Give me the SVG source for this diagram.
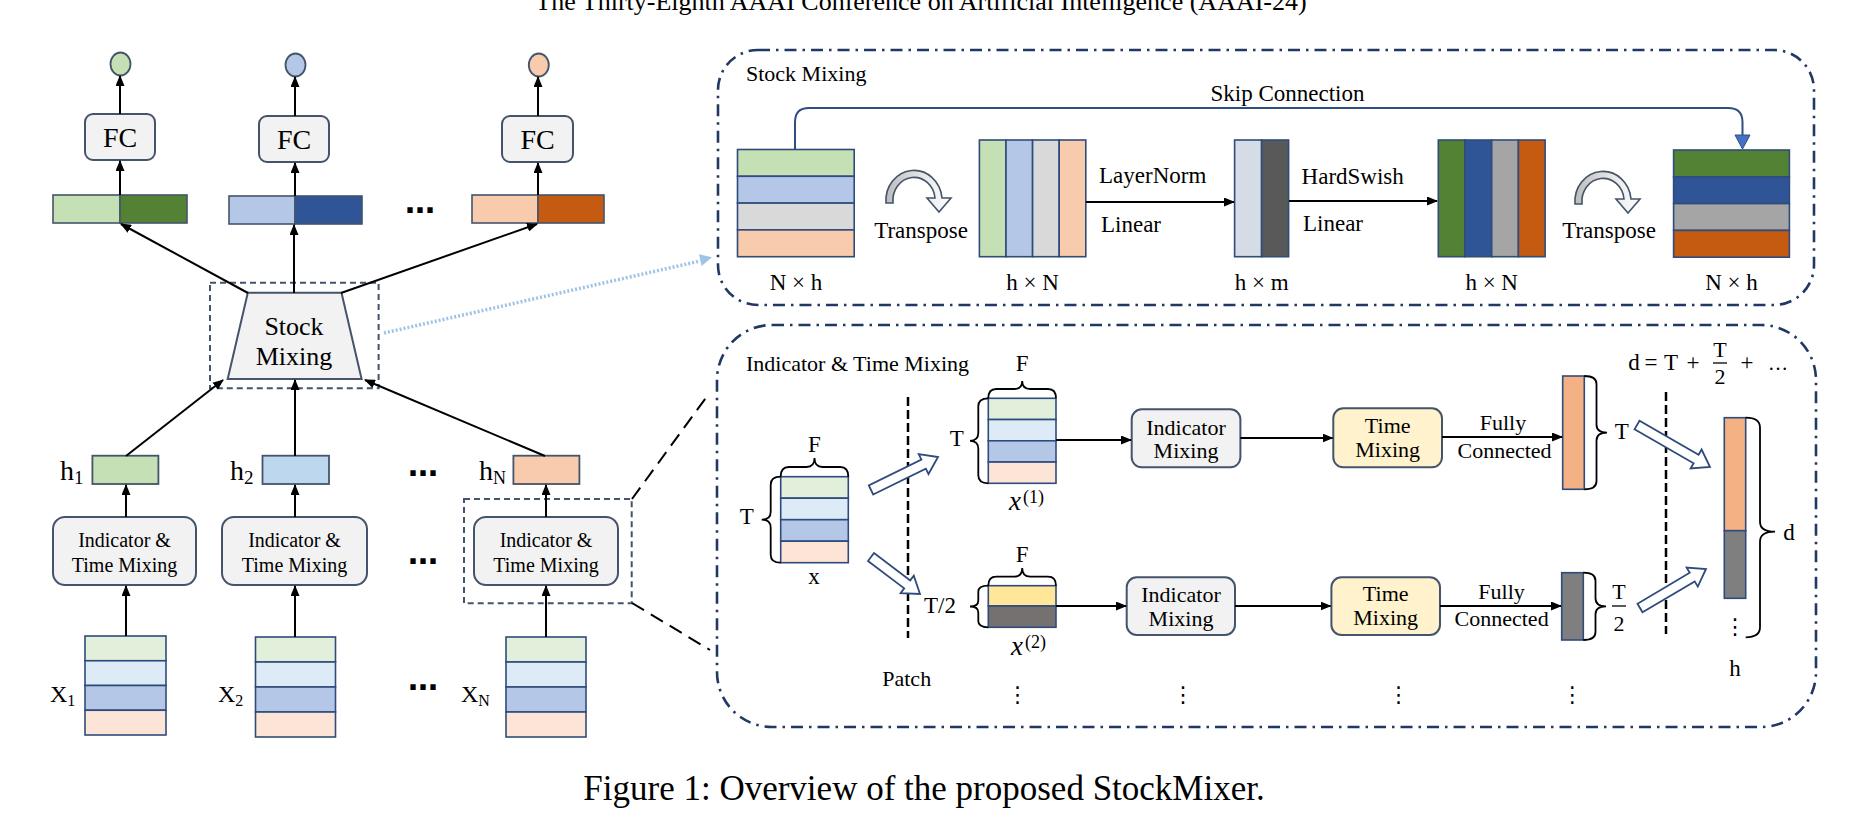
<svg xmlns="http://www.w3.org/2000/svg" width="1864" height="834" viewBox="0 0 1864 834">
<defs>
<style>
text{font-family:"Liberation Serif","Times New Roman",serif;fill:#000}
.c{text-anchor:middle}
.box{fill:#f2f2f2;stroke:#44546a;stroke-width:2}
.tm{fill:#fff2cc;stroke:#44546a;stroke-width:2}
.cell{stroke:#2f4b7c;stroke-width:1.6}
.arr{stroke:#000;stroke-width:2;fill:none;marker-end:url(#ah)}
.hl{fill:none;stroke:#44546a;stroke-width:2;stroke-dasharray:6 4}
.panel{fill:none;stroke:#203864;stroke-width:2.6;stroke-dasharray:12 6 2.5 6}
.zoom{fill:none;stroke:#000;stroke-width:2;stroke-dasharray:14 8}
.patch{fill:none;stroke:#000;stroke-width:2.5;stroke-dasharray:9 4}
.brace{fill:none;stroke:#000;stroke-width:1.8}
.hollow{fill:#fff;stroke:#2f4b7c;stroke-width:1.8}
.dots{font-family:"DejaVu Sans",sans-serif;font-weight:bold}
.vd{font-family:"DejaVu Sans",sans-serif;font-size:22px;text-anchor:middle}
.trn{fill:url(#tg);stroke:#44546a;stroke-width:1.6}
</style>
<marker id="ah" markerUnits="userSpaceOnUse" markerWidth="11" markerHeight="9" refX="10" refY="4.5" orient="auto"><path d="M0,0 L11,4.5 L0,9 z" fill="#000"/></marker>
<linearGradient id="tg" x1="0" y1="0" x2="1" y2="0"><stop offset="0" stop-color="#bcbcbc"/><stop offset="0.55" stop-color="#e6e6e6"/><stop offset="1" stop-color="#ffffff"/></linearGradient>
<path id="trp" d="M886,203 A28,30 0 0 1 942,198 L951,198 L939,212 L927,198 L935,198 A21,23 0 0 0 893,203 Z"/>
</defs>
<rect width="1864" height="834" fill="#fff"/>

<text x="921" y="10" class="c" font-size="26">The Thirty-Eighth AAAI Conference on Artificial Intelligence (AAAI-24)</text>

<!-- Left panel nodes -->
<g id="out-circle-1"><ellipse cx="120.5" cy="64" rx="10" ry="11.5" fill="#c5e0b4" stroke="#44546a" stroke-width="1.8"/></g>
<g id="out-circle-2"><ellipse cx="295.5" cy="65" rx="10" ry="11.5" fill="#b4c7e7" stroke="#44546a" stroke-width="1.8"/></g>
<g id="out-circle-3"><ellipse cx="538.8" cy="65" rx="10" ry="11.5" fill="#f8cbad" stroke="#44546a" stroke-width="1.8"/></g>

<g id="fc-1"><rect class="box" x="85" y="114" width="70" height="46" rx="8"/><text x="120" y="147" class="c" font-size="28">FC</text></g>
<g id="fc-2"><rect class="box" x="259" y="116" width="70" height="46" rx="8"/><text x="294" y="149" class="c" font-size="28">FC</text></g>
<g id="fc-3"><rect class="box" x="502" y="116" width="71" height="46" rx="8"/><text x="537.5" y="149" class="c" font-size="28">FC</text></g>

<g id="bar-1"><rect x="53" y="195" width="67" height="28" fill="#c5e0b4" stroke="#44546a" stroke-width="1.6"/><rect x="120" y="195" width="67" height="28" fill="#548235" stroke="#44546a" stroke-width="1.6"/></g>
<g id="bar-2"><rect x="229" y="196" width="66" height="28" fill="#b4c7e7" stroke="#44546a" stroke-width="1.6"/><rect x="295" y="196" width="67" height="28" fill="#2f5597" stroke="#44546a" stroke-width="1.6"/></g>
<g id="bar-3"><rect x="472" y="195" width="66" height="28" fill="#f8cbad" stroke="#44546a" stroke-width="1.6"/><rect x="538" y="195" width="66" height="28" fill="#c55a11" stroke="#44546a" stroke-width="1.6"/></g>
<text x="420" y="213" class="c dots" font-size="30">…</text>

<g id="stock-mixing-node">
<rect class="hl" x="210" y="282.7" width="168.6" height="105.6"/>
<polygon points="247.8,292.7 341.5,292.7 361.6,379 227.7,379" fill="#f2f2f2" stroke="#44546a" stroke-width="2"/>
<text x="294" y="335" class="c" font-size="26">Stock</text>
<text x="294" y="365" class="c" font-size="26">Mixing</text>
</g>

<g id="h-1"><rect x="92.4" y="455.7" width="66" height="28.3" fill="#c5e0b4" stroke="#44546a" stroke-width="1.8"/><text x="60" y="480" font-size="28">h<tspan font-size="19" dy="4">1</tspan></text></g>
<g id="h-2"><rect x="262.5" y="455.7" width="66.5" height="28.3" fill="#bdd7ee" stroke="#44546a" stroke-width="1.8"/><text x="230" y="480" font-size="28">h<tspan font-size="19" dy="4">2</tspan></text></g>
<g id="h-N"><rect x="513.4" y="455.7" width="66" height="28.3" fill="#f8cbad" stroke="#44546a" stroke-width="1.8"/><text x="479" y="480" font-size="28">h<tspan font-size="18" dy="4">N</tspan></text></g>
<text x="423" y="476" class="c dots" font-size="30">…</text>

<g id="itm-1"><rect class="box" x="53" y="517" width="143" height="68" rx="12"/><text x="124.5" y="547" class="c" font-size="20">Indicator &amp;</text><text x="124.5" y="572" class="c" font-size="20">Time Mixing</text></g>
<g id="itm-2"><rect class="box" x="222" y="517" width="145" height="68" rx="12"/><text x="294.5" y="547" class="c" font-size="20">Indicator &amp;</text><text x="294.5" y="572" class="c" font-size="20">Time Mixing</text></g>
<g id="itm-N"><rect class="hl" x="464" y="499" width="167.7" height="104.3"/><rect class="box" x="474" y="517" width="144" height="68" rx="12"/><text x="546" y="547" class="c" font-size="20">Indicator &amp;</text><text x="546" y="572" class="c" font-size="20">Time Mixing</text></g>
<text x="423" y="564" class="c dots" font-size="30">…</text>

<g id="x-1"><rect class="cell" x="85" y="636" width="81" height="24.75" fill="#e2efda"/><rect class="cell" x="85" y="660.75" width="81" height="24.75" fill="#ddebf7"/><rect class="cell" x="85" y="685.5" width="81" height="24.75" fill="#b4c7e7"/><rect class="cell" x="85" y="710.25" width="81" height="24.75" fill="#fce4d6"/><text x="50" y="702" font-size="24">X<tspan font-size="16" dy="4">1</tspan></text></g>
<g id="x-2"><rect class="cell" x="255.5" y="637" width="80" height="25" fill="#e2efda"/><rect class="cell" x="255.5" y="662" width="80" height="25" fill="#ddebf7"/><rect class="cell" x="255.5" y="687" width="80" height="25" fill="#b4c7e7"/><rect class="cell" x="255.5" y="712" width="80" height="25" fill="#fce4d6"/><text x="218" y="702" font-size="24">X<tspan font-size="16" dy="4">2</tspan></text></g>
<g id="x-N"><rect class="cell" x="506" y="637" width="80" height="25" fill="#e2efda"/><rect class="cell" x="506" y="662" width="80" height="25" fill="#ddebf7"/><rect class="cell" x="506" y="687" width="80" height="25" fill="#b4c7e7"/><rect class="cell" x="506" y="712" width="80" height="25" fill="#fce4d6"/><text x="461" y="702" font-size="24">X<tspan font-size="16" dy="4">N</tspan></text></g>
<text x="423" y="690" class="c dots" font-size="30">…</text>

<!-- Stock Mixing panel -->
<g id="stock-mixing-panel">
<rect class="panel" x="718" y="50" width="1096" height="255" rx="40"/>
<text x="746" y="81" font-size="22">Stock Mixing</text>
<text x="1287.5" y="101" class="c" font-size="23">Skip Connection</text>
</g>
<g id="sm-input">
<rect class="cell" x="737.5" y="149.5" width="116.7" height="26.8" fill="#c5e0b4"/>
<rect class="cell" x="737.5" y="176.3" width="116.7" height="26.8" fill="#b4c7e7"/>
<rect class="cell" x="737.5" y="203.1" width="116.7" height="26.8" fill="#d9d9d9"/>
<rect class="cell" x="737.5" y="229.9" width="116.7" height="26.8" fill="#f8cbad"/>
<text x="796" y="290" class="c" font-size="23">N × h</text>
</g>
<g id="sm-transpose-1"><use href="#trp" class="trn"/><text x="921" y="238" class="c" font-size="23">Transpose</text></g>
<g id="sm-hxN">
<rect class="cell" x="979.4" y="140" width="26.6" height="116.7" fill="#c5e0b4"/>
<rect class="cell" x="1006" y="140" width="26.6" height="116.7" fill="#b4c7e7"/>
<rect class="cell" x="1032.6" y="140" width="26.6" height="116.7" fill="#d9d9d9"/>
<rect class="cell" x="1059.2" y="140" width="26.6" height="116.7" fill="#f8cbad"/>
<text x="1032.6" y="290" class="c" font-size="23">h × N</text>
</g>
<g id="sm-hxm">
<rect class="cell" x="1234.6" y="140" width="27" height="116.7" fill="#d6dce5"/>
<rect class="cell" x="1261.6" y="140" width="27" height="116.7" fill="#595959"/>
<text x="1261.6" y="290" class="c" font-size="23">h × m</text>
</g>
<g id="sm-hxN-out">
<rect class="cell" x="1438.3" y="140" width="26.7" height="116.7" fill="#548235"/>
<rect class="cell" x="1465" y="140" width="26.7" height="116.7" fill="#2f5597"/>
<rect class="cell" x="1491.7" y="140" width="26.7" height="116.7" fill="#a5a5a5"/>
<rect class="cell" x="1518.4" y="140" width="26.7" height="116.7" fill="#c55a11"/>
<text x="1491.7" y="290" class="c" font-size="23">h × N</text>
</g>
<g id="sm-transpose-2"><use href="#trp" class="trn" transform="translate(689,1)"/><text x="1609" y="238" class="c" font-size="23">Transpose</text></g>
<g id="sm-output">
<rect class="cell" x="1673.6" y="150" width="115.8" height="26.8" fill="#548235"/>
<rect class="cell" x="1673.6" y="176.8" width="115.8" height="26.8" fill="#2f5597"/>
<rect class="cell" x="1673.6" y="203.6" width="115.8" height="26.8" fill="#a5a5a5"/>
<rect class="cell" x="1673.6" y="230.4" width="115.8" height="26.8" fill="#c55a11"/>
<text x="1731.5" y="290" class="c" font-size="23">N × h</text>
</g>

<!-- Indicator & Time Mixing panel -->
<g id="itm-panel">
<rect class="panel" x="717" y="325" width="1099" height="402" rx="55"/>
<text x="746" y="371" font-size="22">Indicator &amp; Time Mixing</text>
<line class="patch" x1="908" y1="397" x2="908" y2="638"/>
<text x="906.7" y="686" class="c" font-size="22">Patch</text>
<line class="patch" x1="1666" y1="392" x2="1666" y2="634"/>
</g>
<g id="itm-x">
<rect class="cell" x="780.7" y="476.7" width="67.6" height="21.5" fill="#e2efda"/>
<rect class="cell" x="780.7" y="498.2" width="67.6" height="21.5" fill="#ddebf7"/>
<rect class="cell" x="780.7" y="519.7" width="67.6" height="21.5" fill="#b4c7e7"/>
<rect class="cell" x="780.7" y="541.2" width="67.6" height="21.5" fill="#fce4d6"/>
<path class="brace" d="M780.7,476.7 Q780.7,467 788.7,467 L806.5,467 Q814.5,467 814.5,458 Q814.5,467 822.5,467 L840.3,467 Q848.3,467 848.3,476.7"/>
<path class="brace" d="M780.7,476.7 Q770.7,476.7 770.7,484.7 L770.7,511.7 Q770.7,519.7 761.7,519.7 Q770.7,519.7 770.7,527.7 L770.7,554.7 Q770.7,562.7 780.7,562.7"/>
<text x="814.5" y="452" class="c" font-size="23">F</text>
<text x="746.7" y="524" class="c" font-size="23">T</text>
<text x="814" y="584" class="c" font-size="23">x</text>
</g>
<g id="itm-x1">
<rect class="cell" x="988.3" y="398.3" width="67.7" height="21.25" fill="#e2efda"/>
<rect class="cell" x="988.3" y="419.55" width="67.7" height="21.25" fill="#ddebf7"/>
<rect class="cell" x="988.3" y="440.8" width="67.7" height="21.25" fill="#b4c7e7"/>
<rect class="cell" x="988.3" y="462.05" width="67.7" height="21.25" fill="#fce4d6"/>
<path class="brace" d="M988.3,398.3 Q988.3,389 996.3,389 L1014.2,389 Q1022.2,389 1022.2,381 Q1022.2,389 1030.2,389 L1048,389 Q1056,389 1056,398.3"/>
<path class="brace" d="M988.3,398.3 Q978.3,398.3 978.3,406.3 L978.3,432.8 Q978.3,440.8 970,440.8 Q978.3,440.8 978.3,448.8 L978.3,475.3 Q978.3,483.3 988.3,483.3"/>
<text x="1022.2" y="371" class="c" font-size="23">F</text>
<text x="956.7" y="446" class="c" font-size="23">T</text>
<text x="1009" y="510" font-size="27" font-style="italic">x</text><text x="1023" y="503" font-size="18">(1)</text>
</g>
<g id="itm-x2">
<rect class="cell" x="988.3" y="585.7" width="67.7" height="20.3" fill="#ffe699"/>
<rect class="cell" x="988.3" y="606" width="67.7" height="21.3" fill="#767171"/>
<path class="brace" d="M988.3,585.7 Q988.3,576.7 996.3,576.7 L1014.2,576.7 Q1022.2,576.7 1022.2,568 Q1022.2,576.7 1030.2,576.7 L1048,576.7 Q1056,576.7 1056,585.7"/>
<path class="brace" d="M988.3,585.7 Q978.3,585.7 978.3,591.7 L978.3,600.5 Q978.3,606.5 970,606.5 Q978.3,606.5 978.3,612.5 L978.3,621.3 Q978.3,627.3 988.3,627.3"/>
<text x="1022.2" y="562" class="c" font-size="23">F</text>
<text x="940" y="613" class="c" font-size="23">T/2</text>
<text x="1011" y="655" font-size="27" font-style="italic">x</text><text x="1025" y="648" font-size="18">(2)</text>
<text x="1017.6" y="702" class="vd">⋮</text>
</g>
<g id="itm-ind-1"><rect class="box" x="1131.7" y="409.3" width="108.7" height="58" rx="10"/><text x="1186" y="435" class="c" font-size="22">Indicator</text><text x="1186" y="458" class="c" font-size="22">Mixing</text></g>
<g id="itm-ind-2"><rect class="box" x="1126.7" y="577.3" width="108.3" height="57.7" rx="10"/><text x="1181" y="602" class="c" font-size="22">Indicator</text><text x="1181" y="626" class="c" font-size="22">Mixing</text><text x="1183" y="702" class="vd">⋮</text></g>
<g id="itm-time-1"><rect class="tm" x="1333.3" y="408.3" width="108.7" height="59" rx="10"/><text x="1387.7" y="433" class="c" font-size="22">Time</text><text x="1387.7" y="457" class="c" font-size="22">Mixing</text></g>
<g id="itm-time-2"><rect class="tm" x="1331.4" y="577.3" width="108.6" height="57.7" rx="10"/><text x="1385.7" y="601" class="c" font-size="22">Time</text><text x="1385.7" y="625" class="c" font-size="22">Mixing</text><text x="1398.4" y="702" class="vd">⋮</text></g>
<g id="itm-out-1">
<rect class="cell" x="1562.7" y="376" width="21.6" height="113.3" fill="#f4b183"/>
<path class="brace" d="M1584.3,376 Q1596.5,376 1596.5,384 L1596.5,424.6 Q1596.5,432.6 1607,432.6 Q1596.5,432.6 1596.5,440.6 L1596.5,481.3 Q1596.5,489.3 1584.3,489.3"/>
<text x="1621.7" y="439" class="c" font-size="23">T</text>
</g>
<g id="itm-out-2">
<rect class="cell" x="1561.7" y="572.7" width="21.6" height="67.3" fill="#7f7f7f"/>
<path class="brace" d="M1583.3,572.7 Q1595.5,572.7 1595.5,580.7 L1595.5,598.3 Q1595.5,606.3 1606,606.3 Q1595.5,606.3 1595.5,614.3 L1595.5,632 Q1595.5,640 1583.3,640"/>
<text x="1619" y="599" class="c" font-size="22">T</text>
<line x1="1612" y1="606" x2="1626" y2="606" stroke="#000" stroke-width="1.3"/>
<text x="1619" y="631" class="c" font-size="22">2</text>
<text x="1572.3" y="702" class="vd">⋮</text>
</g>
<g id="itm-h">
<rect class="cell" x="1724.3" y="417.7" width="21.4" height="113" fill="#f4b183"/>
<rect class="cell" x="1724.3" y="530.7" width="21.4" height="67.6" fill="#7f7f7f"/>
<text x="1735" y="634" class="vd">⋮</text>
<path class="brace" d="M1745.7,417.7 Q1760,417.7 1760,427.7 L1760,521.7 Q1760,531.7 1775,531.7 Q1760,531.7 1760,541.7 L1760,627.3 Q1760,637.3 1745.7,637.3"/>
<text x="1789" y="540" class="c" font-size="23">d</text>
<text x="1735" y="676" class="c" font-size="23">h</text>
</g>
<g id="itm-formula">
<text x="1634" y="370" class="c" font-size="23">d</text>
<text x="1651" y="370" class="c" font-size="23">=</text>
<text x="1671" y="370" class="c" font-size="23">T</text>
<text x="1693" y="370" class="c" font-size="23">+</text>
<text x="1720" y="357" class="c" font-size="22">T</text>
<line x1="1713" y1="363" x2="1727" y2="363" stroke="#000" stroke-width="1.3"/>
<text x="1720" y="384" class="c" font-size="22">2</text>
<text x="1747" y="370" class="c" font-size="23">+</text>
<text x="1778" y="370" class="c" font-size="20">…</text>
</g>

<!-- Connectors -->
<g id="connectors">
<line class="arr" x1="120" y1="114" x2="120" y2="76"/>
<line class="arr" x1="295" y1="116" x2="295" y2="77"/>
<line class="arr" x1="538" y1="116" x2="538" y2="77"/>
<line class="arr" x1="120" y1="195" x2="120" y2="161"/>
<line class="arr" x1="295" y1="196" x2="295" y2="163"/>
<line class="arr" x1="538" y1="195" x2="538" y2="163"/>
<line class="arr" x1="248" y1="293" x2="121" y2="224"/>
<line class="arr" x1="294" y1="293" x2="294" y2="225"/>
<line class="arr" x1="341" y1="293" x2="537" y2="224"/>
<line class="arr" x1="126" y1="456" x2="223" y2="380"/>
<line class="arr" x1="295" y1="456" x2="295" y2="380"/>
<line class="arr" x1="545" y1="456" x2="365" y2="380"/>
<line class="arr" x1="126" y1="517" x2="126" y2="485"/>
<line class="arr" x1="295" y1="517" x2="295" y2="485"/>
<line class="arr" x1="546" y1="517" x2="546" y2="485"/>
<line class="arr" x1="126" y1="636" x2="126" y2="586"/>
<line class="arr" x1="295" y1="637" x2="295" y2="586"/>
<line class="arr" x1="546" y1="637" x2="546" y2="586"/>
<line x1="384" y1="333" x2="700" y2="261" stroke="#9dc3e6" stroke-width="3.5" stroke-dasharray="2 2"/>
<polygon points="712,257.3 701.6,265.9 699,254.2" fill="#9dc3e6"/>
<line class="zoom" x1="632" y1="499" x2="708" y2="395"/>
<line class="zoom" x1="632" y1="603" x2="710" y2="650"/>
<path d="M795,149 L795,122 Q795,108 809,108 L1728,108 Q1742.5,108 1742.5,122 L1742.5,136" fill="none" stroke="#2e4f7f" stroke-width="2"/>
<polygon points="1735,135 1750,135 1742.5,149" fill="#4472c4" stroke="#2e4f7f" stroke-width="1"/>
<line class="arr" x1="1086" y1="202" x2="1234" y2="202"/>
<line class="arr" x1="1289" y1="201" x2="1437" y2="201"/>
<text x="1099" y="183" font-size="23">LayerNorm</text>
<text x="1101" y="232" font-size="23">Linear</text>
<text x="1301.6" y="184" font-size="23">HardSwish</text>
<text x="1303" y="231" font-size="23">Linear</text>
<line class="arr" x1="1056" y1="440" x2="1131" y2="440"/>
<line class="arr" x1="1240.4" y1="438" x2="1332.5" y2="438"/>
<line class="arr" x1="1442" y1="437" x2="1562" y2="437"/>
<line class="arr" x1="1056" y1="606" x2="1126" y2="606"/>
<line class="arr" x1="1235" y1="606" x2="1330.5" y2="606"/>
<line class="arr" x1="1440" y1="606" x2="1561" y2="606"/>
<text x="1503" y="430" class="c" font-size="22">Fully</text>
<text x="1504.5" y="458" class="c" font-size="22">Connected</text>
<text x="1501.6" y="599" class="c" font-size="22">Fully</text>
<text x="1501.6" y="626" class="c" font-size="22">Connected</text>
<polygon class="hollow" points="873.2,494.5 925.8,468.6 928.5,474 938,457 918.7,454.2 921.4,459.6 868.8,485.5"/>
<polygon class="hollow" points="868,561 904.2,588.4 900.6,593.2 920,594 913.8,575.6 910.2,580.4 874,553"/>
<polygon class="hollow" points="1634.5,429.3 1693.6,463.3 1690.6,468.5 1710,467 1701.6,449.5 1698.6,454.7 1639.5,420.7"/>
<polygon class="hollow" points="1642.5,612.3 1694.7,581.4 1697.8,586.6 1706,569 1686.6,567.6 1689.7,572.8 1637.5,603.7"/>
</g>

<text x="924" y="800" class="c" font-size="35">Figure 1: Overview of the proposed StockMixer.</text>
</svg>
